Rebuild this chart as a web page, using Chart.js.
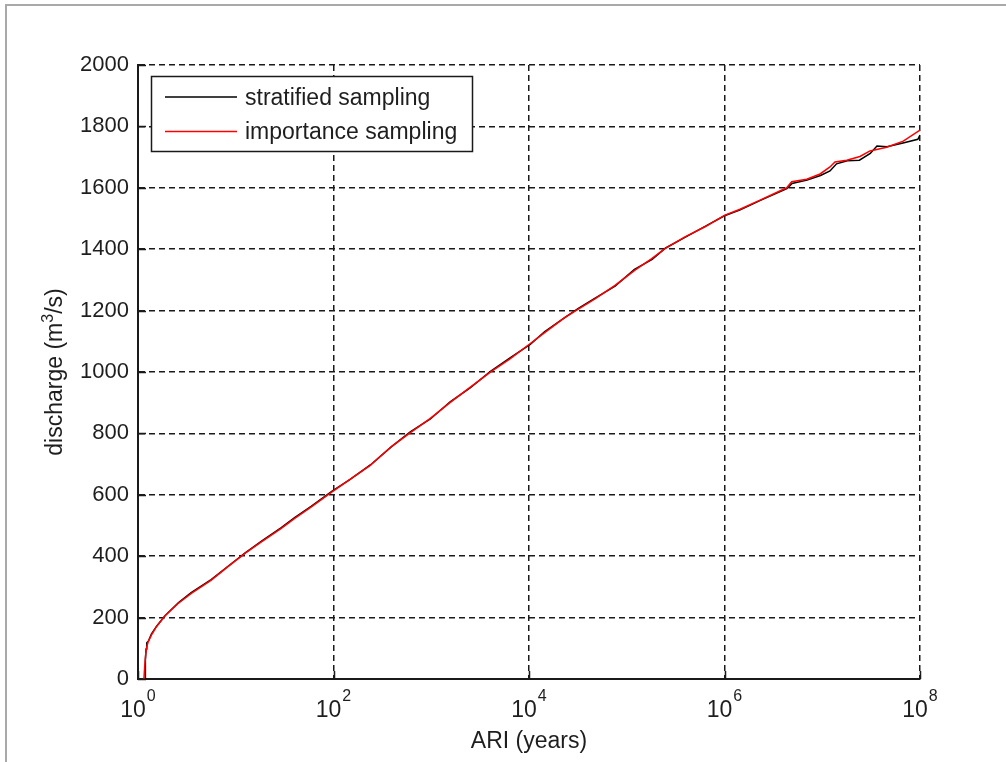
<!DOCTYPE html>
<html>
<head>
<meta charset="utf-8">
<title>Discharge vs ARI</title>
<script src="https://cdn.jsdelivr.net/npm/chart.js@4.4.1/dist/chart.umd.min.js"></script>
<style>
  html, body { margin: 0; padding: 0; background: #fff; }
  #wrap { position: relative; width: 1006px; height: 762px; overflow: hidden; background: #fff; }
  #frame { position: absolute; left: 5px; top: 4px; width: 1100px; height: 900px;
           border-top: 2px solid #a9a9a9; border-left: 2px solid #a9a9a9; }
  #c { position: absolute; left: 0; top: 0; }
</style>
</head>
<body>
<div id="wrap">
  <div id="frame"></div>
  <canvas id="c" width="1006" height="762"></canvas>
</div>
<script>
// Average recurrence interval (years) and discharge (m3/s) for each estimate
const ariStratified = [1.19, 1.19, 1.21, 1.23, 1.28, 1.37, 1.55, 1.9, 2.6, 3.5, 5.6, 8.4, 12.5, 18.5, 29, 40, 59, 96, 148, 240, 390, 610, 980, 1560, 2500, 4000, 6400, 10300, 14500, 23000, 32000, 47000, 76000, 120000, 182000, 250000, 390000, 640000, 1.0e6, 1.45e6, 2.3e6, 4.4e6, 4.9e6, 7e6, 9.6e6, 1.2e7, 1.4e7, 1.8e7, 2.4e7, 3.1e7, 3.63e7, 4.6e7, 6.7e7, 9.5e7, 1e8];
const dischargeStratified = [0, 62, 98, 118, 124, 146, 172, 207, 249, 281, 324, 368, 411, 450, 492, 526, 562, 611, 650, 698, 756, 805, 847, 903, 948, 1001, 1046, 1090, 1132, 1176, 1207, 1240, 1280, 1334, 1367, 1404, 1438, 1475, 1509, 1528, 1558, 1598, 1614, 1625, 1640, 1655, 1678, 1688, 1690, 1712, 1736, 1734, 1746, 1758, 1772];

const ariImportance = [1.15, 1.17, 1.2, 1.22, 1.27, 1.37, 1.54, 1.88, 2.57, 3.51, 5.62, 8.33, 12.4, 18.3, 29.2, 40.1, 59.3, 95, 150, 236, 394, 607, 971, 1555, 2490, 3990, 6390, 10240, 14580, 23360, 31950, 47300, 75800, 121400, 180000, 246000, 394000, 632000, 1.01e6, 1.44e6, 2.31e6, 4.33e6, 4.87e6, 6.93e6, 9.5e6, 1.2e7, 1.35e7, 1.78e7, 2.43e7, 3.08e7, 4.56e7, 6.74e7, 1e8];
const dischargeImportance = [0, 40, 82, 100, 121, 143, 170, 205, 246, 279, 322, 366, 409, 447, 491, 523, 561, 608, 652, 695, 758, 802, 848, 900, 950, 999, 1043, 1092, 1129, 1178, 1205, 1238, 1282, 1332, 1369, 1402, 1440, 1473, 1511, 1530, 1560, 1600, 1620, 1628, 1645, 1668, 1684, 1690, 1702, 1720, 1732, 1752, 1788];

const seriesNames = ['stratified sampling', 'importance sampling'];
const seriesColors = ['#000000', '#ff0000'];

const xTickExponents = [0, 2, 4, 6, 8];
const yTickValues = [0, 200, 400, 600, 800, 1000, 1200, 1400, 1600, 1800, 2000];

const xTitle = 'ARI (years)';
const yTitleParts = ['discharge (m', '3', '/s)'];

const FONT = '"Liberation Sans", Arial, Helvetica, sans-serif';
const TEXT = '#1e1e1e';

const toPoints = (xs, ys) => xs.map((x, i) => ({ x: x, y: ys[i] }));

// Inward tick marks, exponent-style x labels, rotated y title and the boxed legend
const decorations = {
  id: 'decorations',
  afterDraw(chart) {
    const ctx = chart.ctx;
    const area = chart.chartArea;
    const xs = chart.scales.x;
    const ys = chart.scales.y;
    ctx.save();

    // inward ticks
    ctx.strokeStyle = '#1a1a1a';
    ctx.lineWidth = 1.5;
    ctx.beginPath();
    yTickValues.forEach(v => {
      const py = Math.round(ys.getPixelForValue(v)) + 0.5;
      ctx.moveTo(area.left, py);
      ctx.lineTo(area.left + 8, py);
    });
    xTickExponents.forEach(e => {
      const px = Math.round(xs.getPixelForValue(Math.pow(10, e))) + 0.5;
      ctx.moveTo(px, area.bottom);
      ctx.lineTo(px, area.bottom - 8);
    });
    ctx.stroke();

    // x labels: 10 with superscript exponent
    ctx.fillStyle = TEXT;
    ctx.textBaseline = 'alphabetic';
    ctx.textAlign = 'left';
    xTickExponents.forEach(e => {
      const px = xs.getPixelForValue(Math.pow(10, e));
      ctx.font = '23px ' + FONT;
      const wBase = ctx.measureText('10').width;
      ctx.font = '16px ' + FONT;
      const wExp = ctx.measureText(String(e)).width;
      const x0 = px - (wBase + 1 + wExp) / 2;
      ctx.font = '23px ' + FONT;
      ctx.fillText('10', x0, area.bottom + 37.5);
      ctx.font = '16px ' + FONT;
      ctx.fillText(String(e), x0 + wBase + 1, area.bottom + 21.5);
    });

    // y title, rotated, with superscript
    const cy = (area.top + area.bottom) / 2;
    ctx.translate(61.5, cy);
    ctx.rotate(-Math.PI / 2);
    ctx.font = '23px ' + FONT;
    const w1 = ctx.measureText(yTitleParts[0]).width;
    const w3 = ctx.measureText(yTitleParts[2]).width;
    ctx.font = '16px ' + FONT;
    const w2 = ctx.measureText(yTitleParts[1]).width;
    let tx = -(w1 + w2 + w3) / 2;
    ctx.font = '23px ' + FONT;
    ctx.fillText(yTitleParts[0], tx, 0);
    ctx.font = '16px ' + FONT;
    ctx.fillText(yTitleParts[1], tx + w1, -9);
    ctx.font = '23px ' + FONT;
    ctx.fillText(yTitleParts[2], tx + w1 + w2, 0);
    ctx.setTransform(1, 0, 0, 1, 0, 0);

    // legend box
    const lx = area.left + 13.5, ly = area.top + 11.5, lw = 321, lh = 75;
    ctx.fillStyle = '#ffffff';
    ctx.fillRect(lx, ly, lw, lh);
    ctx.strokeStyle = '#1a1a1a';
    ctx.lineWidth = 1.5;
    ctx.strokeRect(lx, ly, lw, lh);
    const rows = [ly + 20.5, ly + 55];
    ctx.font = '23px ' + FONT;
    ctx.textBaseline = 'middle';
    seriesNames.forEach((name, i) => {
      ctx.strokeStyle = seriesColors[i];
      ctx.lineWidth = 1.5;
      ctx.beginPath();
      ctx.moveTo(lx + 13.5, rows[i]);
      ctx.lineTo(lx + 85.5, rows[i]);
      ctx.stroke();
      ctx.fillStyle = TEXT;
      ctx.fillText(name, lx + 93.5, rows[i] + 1.5);
    });
    ctx.restore();
  }
};

new Chart(document.getElementById('c'), {
  type: 'line',
  data: {
    datasets: [
      {
        label: seriesNames[0],
        data: toPoints(ariStratified, dischargeStratified),
        borderColor: seriesColors[0],
        borderWidth: 1.5,
        pointRadius: 0,
        tension: 0,
        fill: false,
        order: 1
      },
      {
        label: seriesNames[1],
        data: toPoints(ariImportance, dischargeImportance),
        borderColor: seriesColors[1],
        borderWidth: 1.5,
        pointRadius: 0,
        tension: 0,
        fill: false,
        order: 0
      }
    ]
  },
  options: {
    responsive: false,
    animation: false,
    devicePixelRatio: 1,
    layout: { padding: { left: 0, top: 65, right: 86, bottom: 0 } },
    plugins: { legend: { display: false }, tooltip: { enabled: false } },
    scales: {
      x: {
        type: 'logarithmic',
        min: 1,
        max: 1e8,
        afterBuildTicks: s => { s.ticks = xTickExponents.map(e => ({ value: Math.pow(10, e) })); },
        afterFit: s => { s.height = 83; },
        ticks: { display: false },
        grid: { color: '#1a1a1a', lineWidth: 1.5, drawTicks: false },
        border: { display: true, color: '#1a1a1a', width: 2, dash: [6, 4] },
        title: {
          display: true,
          text: xTitle,
          color: TEXT,
          font: { family: FONT, size: 23 },
          padding: { top: 0, bottom: 7 }
        }
      },
      y: {
        type: 'linear',
        min: 0,
        max: 2000,
        afterBuildTicks: s => { s.ticks = yTickValues.map(v => ({ value: v })); },
        afterFit: s => { s.width = 138; },
        ticks: {
          color: TEXT,
          padding: 9,
          font: { family: FONT, size: 22 },
          autoSkip: false,
          callback: v => String(v)
        },
        grid: { color: '#1a1a1a', lineWidth: 1.5, drawTicks: false },
        border: { display: true, color: '#1a1a1a', width: 2, dash: [6, 4] }
      }
    }
  },
  plugins: [decorations]
});
</script>
</body>
</html>
